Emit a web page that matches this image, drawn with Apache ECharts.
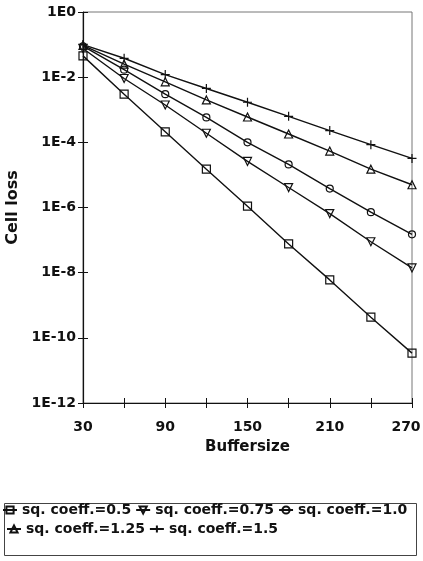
<!DOCTYPE html>
<html>
<head>
<meta charset="utf-8">
<script src="https://cdn.jsdelivr.net/npm/echarts@6/dist/echarts.min.js"></script>
<style>
html,body{margin:0;padding:0;background:#fff;}
#c{width:423px;height:561px;}
</style>
</head>
<body>
<div id="c"></div>
<script>
// Buffersize values (x)
var bufferSizes = [30, 60, 90, 120, 150, 180, 210, 240, 270];
// Cell loss per squared coefficient of variation
var sq050 = [4.5e-2, 3.0e-3, 2.1e-4, 1.5e-5, 1.1e-6, 7.6e-8, 6.0e-9, 4.3e-10, 3.4e-11];
var sq075 = [7.6e-2, 9.1e-3, 1.4e-3, 1.9e-4, 2.6e-5, 4.1e-6, 6.5e-7, 8.9e-8, 1.4e-8];
var sq100 = [8.9e-2, 1.7e-2, 3.0e-3, 5.8e-4, 1.0e-4, 2.1e-5, 3.8e-6, 7.2e-7, 1.5e-7];
var sq125 = [9.5e-2, 2.5e-2, 7.2e-3, 2.0e-3, 6.0e-4, 1.8e-4, 5.4e-5, 1.5e-5, 5.0e-6];
var sq150 = [1.0e-1, 3.8e-2, 1.2e-2, 4.5e-3, 1.7e-3, 6.3e-4, 2.3e-4, 8.5e-5, 3.2e-5];
var seriesNames = ['sq. coeff.=0.5', 'sq. coeff.=0.75', 'sq. coeff.=1.0', 'sq. coeff.=1.25', 'sq. coeff.=1.5'];
var xTickLabels = [30, 90, 150, 210, 270];

var FONT = 'DejaVu Sans';
function pairs(arr){ return bufferSizes.map(function(x,i){ return [x, arr[i]]; }); }
function mk(name, arr, symbol, size, rot){
  return {
    name: name, type: 'line', data: pairs(arr),
    symbol: symbol, symbolSize: size, symbolRotate: rot || 0,
    showAllSymbol: true,
    lineStyle: {color: '#111', width: 1.4},
    itemStyle: {color: 'rgba(255,255,255,0)', borderColor: '#111', borderWidth: 1.2},
    emphasis: {disabled: true},
    animation: false
  };
}
var plusPath = 'path://M5,0L5,10M0,5L10,5';
var lastX = xTickLabels[xTickLabels.length - 1];

var chart = echarts.init(document.getElementById('c'), null, {renderer: 'canvas'});
var option = {
  animation: false,
  backgroundColor: '#fff',
  grid: {left: 83, right: 11, top: 12, bottom: 158, show: true, borderColor: '#777', borderWidth: 1,
         containLabel: false, outerBoundsMode: 'none'},
  xAxis: [{
    type: 'value', min: 30, max: 270, interval: 30,
    name: 'Buffersize', nameLocation: 'middle', nameGap: 37,
    nameTextStyle: {fontFamily: FONT, fontSize: 15, fontWeight: 'bold', color: '#111'},
    axisLine: {lineStyle: {color: '#111', width: 1.2}},
    axisTick: {show: true, inside: false, length: 5, lineStyle: {color: '#111'}},
    splitLine: {show: false},
    axisLabel: {
      margin: 17, fontFamily: FONT, fontSize: 14, fontWeight: 'bold', color: '#111',
      formatter: function(v){
        if (xTickLabels.indexOf(v) < 0) return '';
        return v === lastX ? '{e|' + v + '}' : String(v);
      },
      rich: {e: {fontFamily: FONT, fontSize: 14, fontWeight: 'bold', color: '#111', padding: [0, 12, 0, 0]}}
    }
  }, {
    type: 'value', min: 30, max: 270, interval: 30, position: 'bottom',
    axisLine: {show: false}, axisLabel: {show: false}, splitLine: {show: false},
    axisTick: {show: true, inside: true, length: 5, lineStyle: {color: '#111'}}
  }],
  yAxis: [{
    type: 'log', logBase: 10, min: 1e-12, max: 1, interval: 2,
    name: 'Cell loss', nameLocation: 'middle', nameGap: 54, nameRotate: 90,
    nameTextStyle: {fontFamily: FONT, fontSize: 16, fontWeight: 'bold', color: '#111'},
    axisLine: {show: true, lineStyle: {color: '#111', width: 1.2}},
    axisTick: {show: true, inside: false, length: 5, lineStyle: {color: '#111'}},
    minorTick: {show: false},
    splitLine: {show: false},
    axisLabel: {
      margin: 7, fontFamily: FONT, fontSize: 14, fontWeight: 'bold', color: '#111',
      formatter: function(v){ return '1E' + Math.round(Math.log10(v)); }
    }
  }, {
    type: 'log', logBase: 10, min: 1e-12, max: 1, interval: 2, position: 'left',
    axisLine: {show: false}, axisLabel: {show: false}, splitLine: {show: false},
    axisTick: {show: true, inside: true, length: 5, lineStyle: {color: '#111'}}
  }],
  legend: [{
    data: seriesNames.slice(0, 3), left: 2, top: 503, orient: 'horizontal',
    itemWidth: 14, itemHeight: 9, itemGap: 4, padding: 0,
    textStyle: {fontFamily: FONT, fontSize: 14, fontWeight: 'bold', color: '#111'}
  }, {
    data: seriesNames.slice(3), left: 6, top: 522, orient: 'horizontal',
    itemWidth: 14, itemHeight: 9, itemGap: 4, padding: 0,
    textStyle: {fontFamily: FONT, fontSize: 14, fontWeight: 'bold', color: '#111'}
  }],
  graphic: [{
    type: 'rect', left: 2, top: 501, shape: {width: 412, height: 52},
    style: {fill: 'none', stroke: '#444', lineWidth: 1}, silent: true
  }],
  series: [
    mk(seriesNames[0], sq050, 'rect', 8),
    mk(seriesNames[1], sq075, 'triangle', 8, 180),
    mk(seriesNames[2], sq100, 'circle', 7),
    mk(seriesNames[3], sq125, 'triangle', 8),
    mk(seriesNames[4], sq150, plusPath, 9)
  ]
};
chart.setOption(option);
</script>
</body>
</html>
